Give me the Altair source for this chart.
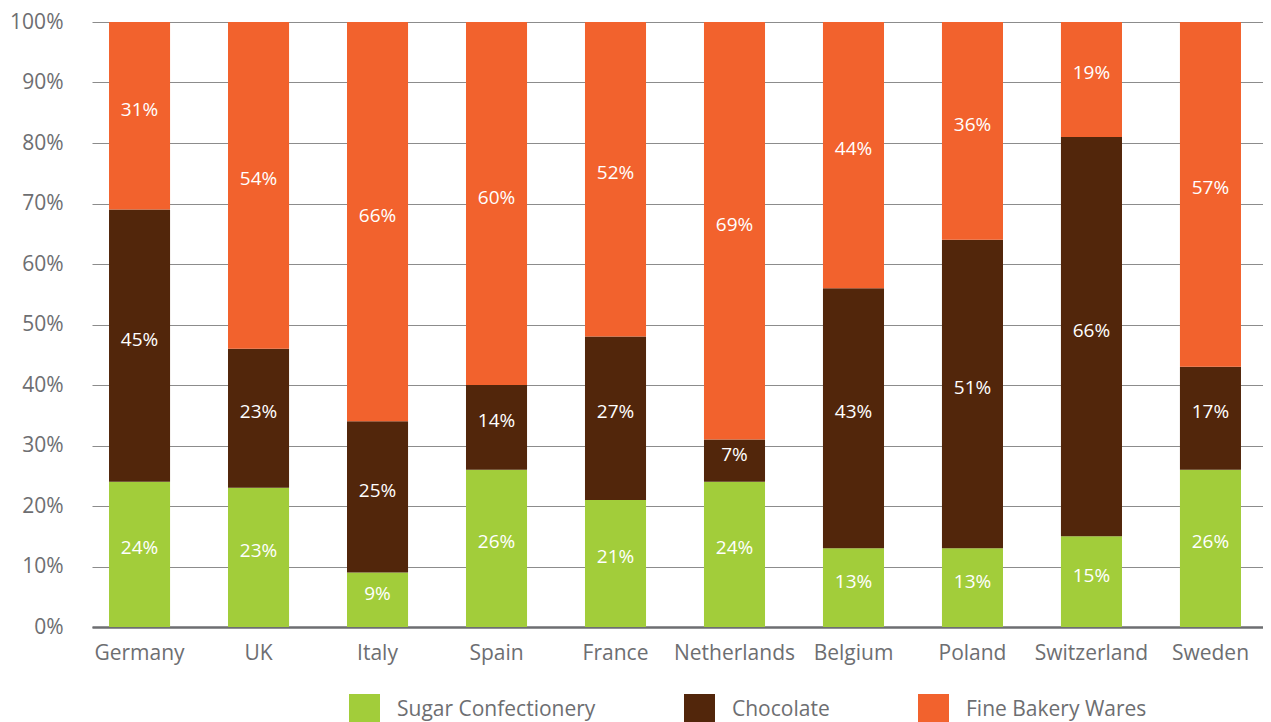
import altair as alt
import pandas as pd

countries = ["Germany", "UK", "Italy", "Spain", "France", "Netherlands",
             "Belgium", "Poland", "Switzerland", "Sweden"]
categories = ["Sugar Confectionery", "Chocolate", "Fine Bakery Wares"]
sugar = [24, 23, 9, 26, 21, 24, 13, 13, 15, 26]
chocolate = [45, 23, 25, 14, 27, 7, 43, 51, 66, 17]
bakery = [31, 54, 66, 60, 52, 69, 44, 36, 19, 57]
colors = ["#a2cd3a", "#52260b", "#f2622d"]

rows = []
for i, c in enumerate(countries):
    for k, (cat, vals) in enumerate(zip(categories, [sugar, chocolate, bakery])):
        rows.append({"country": c, "category": cat, "value": vals[i], "order": k})
df = pd.DataFrame(rows)

FONT = "Open Sans"
GRAY = "#6d6e71"

base = alt.Chart(df).transform_stack(
    stack="value", as_=["y0", "y1"], groupby=["country"],
    sort=[alt.SortField("order", order="ascending")]
).transform_calculate(
    mid="(datum.y0 + datum.y1) / 2",
    label="datum.value + '%'"
)

xenc = alt.X("country:N", sort=countries, title=None,
             scale=alt.Scale(paddingInner=0.487, paddingOuter=0.164, align=0.436),
             axis=alt.Axis(labelAngle=0, labelFontSize=21, labelColor=GRAY, labelFont=FONT,
                           labelPadding=15, ticks=False, domainColor=GRAY, domainWidth=2.5,
                           grid=False))

bars = base.mark_bar().encode(
    x=xenc,
    y=alt.Y("y0:Q", title=None,
            scale=alt.Scale(domain=[0, 100], nice=False),
            axis=alt.Axis(values=list(range(0, 101, 10)), labelExpr="datum.value + '%'",
                          labelFontSize=21, labelColor=GRAY, labelFont=FONT,
                          labelPadding=29, ticks=False, domain=False,
                          grid=True, gridColor="#8c8c8c", gridWidth=1.2)),
    y2="y1:Q",
    color=alt.Color("category:N", sort=categories,
                    scale=alt.Scale(domain=categories, range=colors),
                    legend=alt.Legend(title=None, orient="none", legendX=257, legendY=672,
                                      direction="horizontal", columns=3,
                                      symbolType="square", symbolSize=961,
                                      symbolStrokeWidth=0, symbolOpacity=1,
                                      labelFontSize=21, labelColor=GRAY, labelFont=FONT,
                                      labelOffset=17, columnPadding=88, padding=0,
                                      labelLimit=400)),
    order=alt.Order("order:Q")
)

labels = base.mark_text(color="white", fontSize=19, font=FONT, baseline="alphabetic",
                        dy=0).encode(
    x=alt.X("country:N", sort=countries),
    y=alt.Y("mid:Q"),
    text="label:N"
)

chart = alt.layer(bars, labels).properties(
    width=1171, height=605,
    autosize=alt.AutoSizeParams(type="none"),
    padding={"left": 84, "top": 14, "right": 0, "bottom": 95}
).configure_view(stroke=None)

chart.save("out.html", embed_options={"renderer": "svg", "actions": False})
